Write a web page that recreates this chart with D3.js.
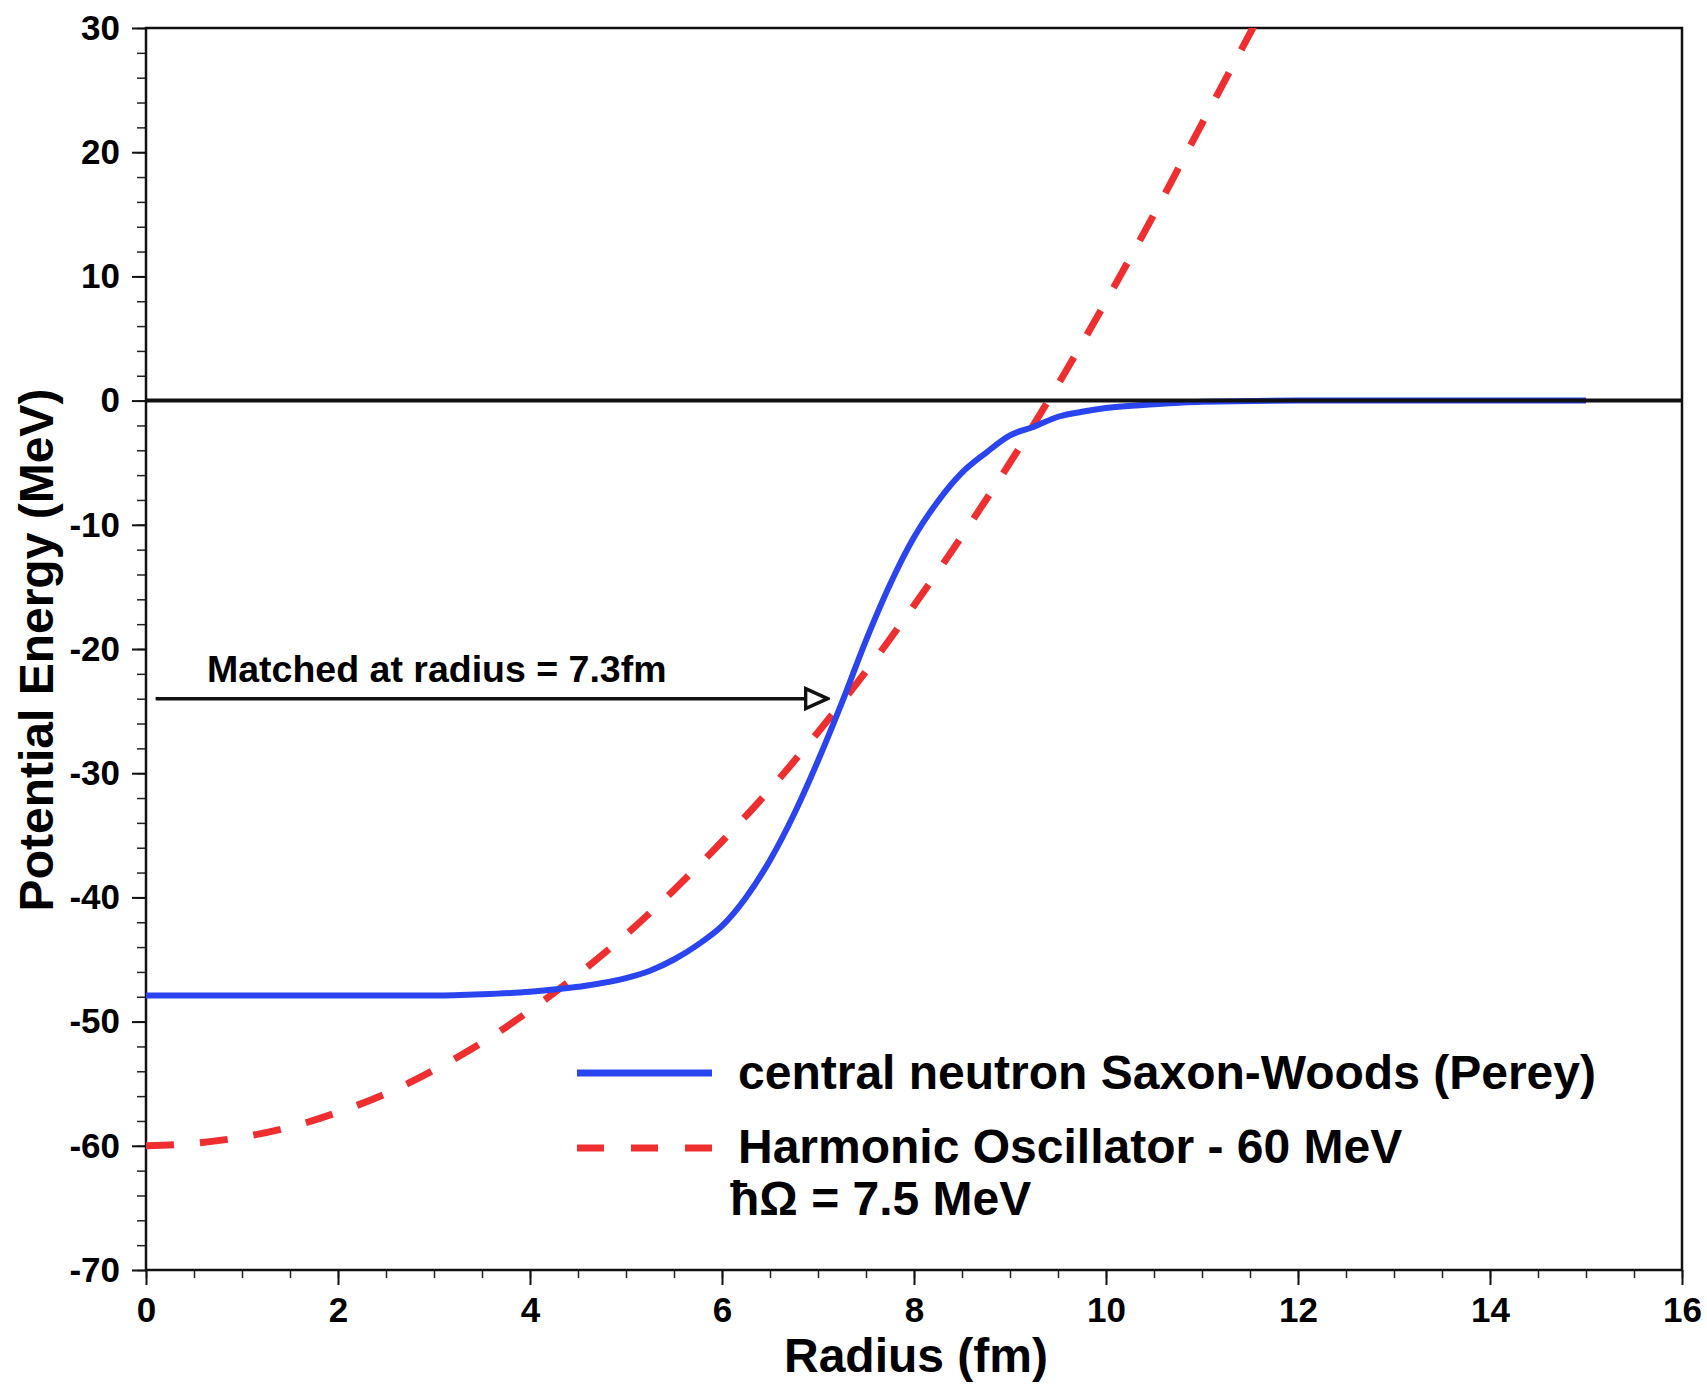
<!DOCTYPE html>
<html>
<head>
<meta charset="utf-8">
<script src="https://cdn.jsdelivr.net/npm/d3@7"></script>
<style>
body { margin: 0; background: #fff; }
text { font-family: "Liberation Sans", Arial, Helvetica, sans-serif; font-weight: bold; }
</style>
</head>
<body>
<div id="chart"></div>
<script>
// radius (fm)
const wsRadius = [0, 1, 2, 3, 3.5, 4, 4.5, 5, 5.25, 5.5, 5.75, 6, 6.25, 6.5, 6.75, 7, 7.25, 7.5, 7.75, 8, 8.25, 8.5, 8.75, 9, 9.25, 9.5, 9.75, 10, 10.5, 11, 12, 13, 14, 15];
const wsEnergy = [-47.9, -47.9, -47.9, -47.9, -47.8, -47.6, -47.2, -46.5, -45.9, -45.0, -43.8, -42.3, -40.0, -37.0, -33.3, -29.0, -24.3, -19.3, -14.8, -11.0, -8.1, -5.8, -4.2, -2.8, -2.1, -1.3, -0.9, -0.6, -0.3, -0.1, 0, 0, 0, 0];

const hoRadius = [0, 0.5, 1, 1.5, 2, 2.5, 3, 3.5, 4, 4.5, 5, 5.5, 6, 6.5, 7, 7.5, 8, 8.5, 9, 9.5, 10, 10.5, 11, 11.55];
const hoEnergy = [-60, -59.8, -59.3, -58.5, -57.3, -55.8, -53.9, -51.7, -49.1, -46.2, -43.0, -39.4, -35.5, -31.3, -26.7, -21.8, -16.5, -10.9, -5.0, 1.3, 8.0, 15.0, 22.3, 30.3];

const xTicks = [0, 2, 4, 6, 8, 10, 12, 14, 16];
const yTicks = [-70, -60, -50, -40, -30, -20, -10, 0, 10, 20, 30];

const seriesNames = ["central neutron Saxon-Woods (Perey)", "Harmonic Oscillator - 60 MeV"];
const noteText = "Matched at radius = 7.3fm";
const matchRadius = [0.1, 7.1];
const matchEnergy = -24;

const width = 1707, height = 1385,
margin = { top: 28, right: 25, bottom: 115, left: 146 };

const svg = d3.select("#chart")
.append("svg")
.attr("width", width)
.attr("height", height)
.style("background-color", "white");

const xScale = d3.scaleLinear()
.domain([0, 16])
.range([margin.left, width - margin.right]);

const yScale = d3.scaleLinear()
.domain([-70, 30])
.range([height - margin.bottom, margin.top]);

// plain hyphen for negatives, like the original
const plain = d => String(d);

// clip so the red curve stops at the top edge
svg.append("clipPath").attr("id", "plotclip")
.append("rect")
.attr("x", margin.left)
.attr("y", margin.top)
.attr("width", width - margin.left - margin.right)
.attr("height", height - margin.top - margin.bottom);

// minor ticks
svg.append("g")
.attr("transform", `translate(0,${height - margin.bottom})`)
.call(d3.axisBottom(xScale).tickValues(d3.range(0, 16.01, 0.5)).tickSize(8).tickFormat(""))
.call(g => g.select(".domain").remove())
.selectAll("line").attr("stroke", "#222").attr("stroke-width", 1.5);

svg.append("g")
.attr("transform", `translate(${margin.left},0)`)
.call(d3.axisLeft(yScale).tickValues(d3.range(-70, 30.01, 2)).tickSize(9).tickFormat(""))
.call(g => g.select(".domain").remove())
.selectAll("line").attr("stroke", "#222").attr("stroke-width", 1.5);

// major ticks + labels
const xAxis = svg.append("g")
.attr("transform", `translate(0,${height - margin.bottom})`)
.call(d3.axisBottom(xScale).tickValues(xTicks).tickSize(15).tickPadding(12).tickFormat(plain));
xAxis.select(".domain").remove();
xAxis.selectAll("line").attr("stroke", "#111").attr("stroke-width", 2);
xAxis.selectAll("text").attr("fill", "black").style("font-size", "35px");

const yAxis = svg.append("g")
.attr("transform", `translate(${margin.left},0)`)
.call(d3.axisLeft(yScale).tickValues(yTicks).tickSize(14).tickPadding(12).tickFormat(plain));
yAxis.select(".domain").remove();
yAxis.selectAll("line").attr("stroke", "#111").attr("stroke-width", 2);
yAxis.selectAll("text").attr("fill", "black").style("font-size", "35px");

// frame
svg.append("rect")
.attr("x", margin.left)
.attr("y", margin.top)
.attr("width", width - margin.left - margin.right)
.attr("height", height - margin.top - margin.bottom)
.attr("fill", "none")
.attr("stroke", "#111")
.attr("stroke-width", 2.5);

const line = d3.line()
.x(d => xScale(d[0]))
.y(d => yScale(d[1]))
.curve(d3.curveMonotoneX);

// harmonic oscillator (dashed red)
svg.append("path")
.datum(hoRadius.map((r, i) => [r, hoEnergy[i]]))
.attr("clip-path", "url(#plotclip)")
.attr("d", line)
.attr("fill", "none")
.attr("stroke", "#ef2f2f")
.attr("stroke-width", 7)
.attr("stroke-dasharray", "28,26");

// saxon-woods (solid blue)
svg.append("path")
.datum(wsRadius.map((r, i) => [r, wsEnergy[i]]))
.attr("d", line)
.attr("fill", "none")
.attr("stroke", "#2a45f0")
.attr("stroke-width", 6);

// zero line
svg.append("line")
.attr("x1", xScale(0))
.attr("x2", xScale(16))
.attr("y1", yScale(0))
.attr("y2", yScale(0))
.attr("stroke", "#111")
.attr("stroke-width", 4);

// annotation arrow
svg.append("defs").append("marker")
.attr("id", "openhead")
.attr("viewBox", "0 0 26 26")
.attr("refX", 24)
.attr("refY", 13)
.attr("markerWidth", 26)
.attr("markerHeight", 26)
.attr("markerUnits", "userSpaceOnUse")
.attr("orient", "auto")
.append("path")
.attr("d", "M2,3 L24,13 L2,23 Z")
.attr("fill", "white")
.attr("stroke", "#111")
.attr("stroke-width", 3.5);

svg.append("line")
.attr("x1", xScale(matchRadius[0]))
.attr("x2", xScale(matchRadius[1]))
.attr("y1", yScale(matchEnergy))
.attr("y2", yScale(matchEnergy))
.attr("stroke", "#111")
.attr("stroke-width", 3.5)
.attr("marker-end", "url(#openhead)");

svg.append("text")
.text(noteText)
.attr("x", 207)
.attr("y", 682)
.style("font-size", "37.5px")
.attr("fill", "black");

// legend
const legend = svg.append("g");
legend.append("line")
.attr("x1", 577).attr("x2", 712)
.attr("y1", 1073).attr("y2", 1073)
.attr("stroke", "#2a45f0").attr("stroke-width", 7);
legend.append("line")
.attr("x1", 577).attr("x2", 712)
.attr("y1", 1148).attr("y2", 1148)
.attr("stroke", "#ef2f2f").attr("stroke-width", 7)
.attr("stroke-dasharray", "27,27");

legend.append("text").text(seriesNames[0])
.attr("x", 738).attr("y", 1089)
.style("font-size", "48px").attr("fill", "black");
legend.append("text").text(seriesNames[1])
.attr("x", 738).attr("y", 1163)
.style("font-size", "48px").attr("fill", "black");
legend.append("text").text("\u0127\u03A9 = 7.5 MeV")
.attr("x", 730).attr("y", 1215)
.style("font-size", "48px").attr("fill", "black");

// axis titles
svg.append("text")
.text("Radius (fm)")
.attr("x", 916)
.attr("y", 1372)
.attr("text-anchor", "middle")
.style("font-size", "48px")
.attr("fill", "black");

svg.append("text")
.text("Potential Energy (MeV)")
.attr("transform", "translate(53,650) rotate(-90)")
.attr("text-anchor", "middle")
.style("font-size", "48px")
.attr("fill", "black");
</script>
</body>
</html>
